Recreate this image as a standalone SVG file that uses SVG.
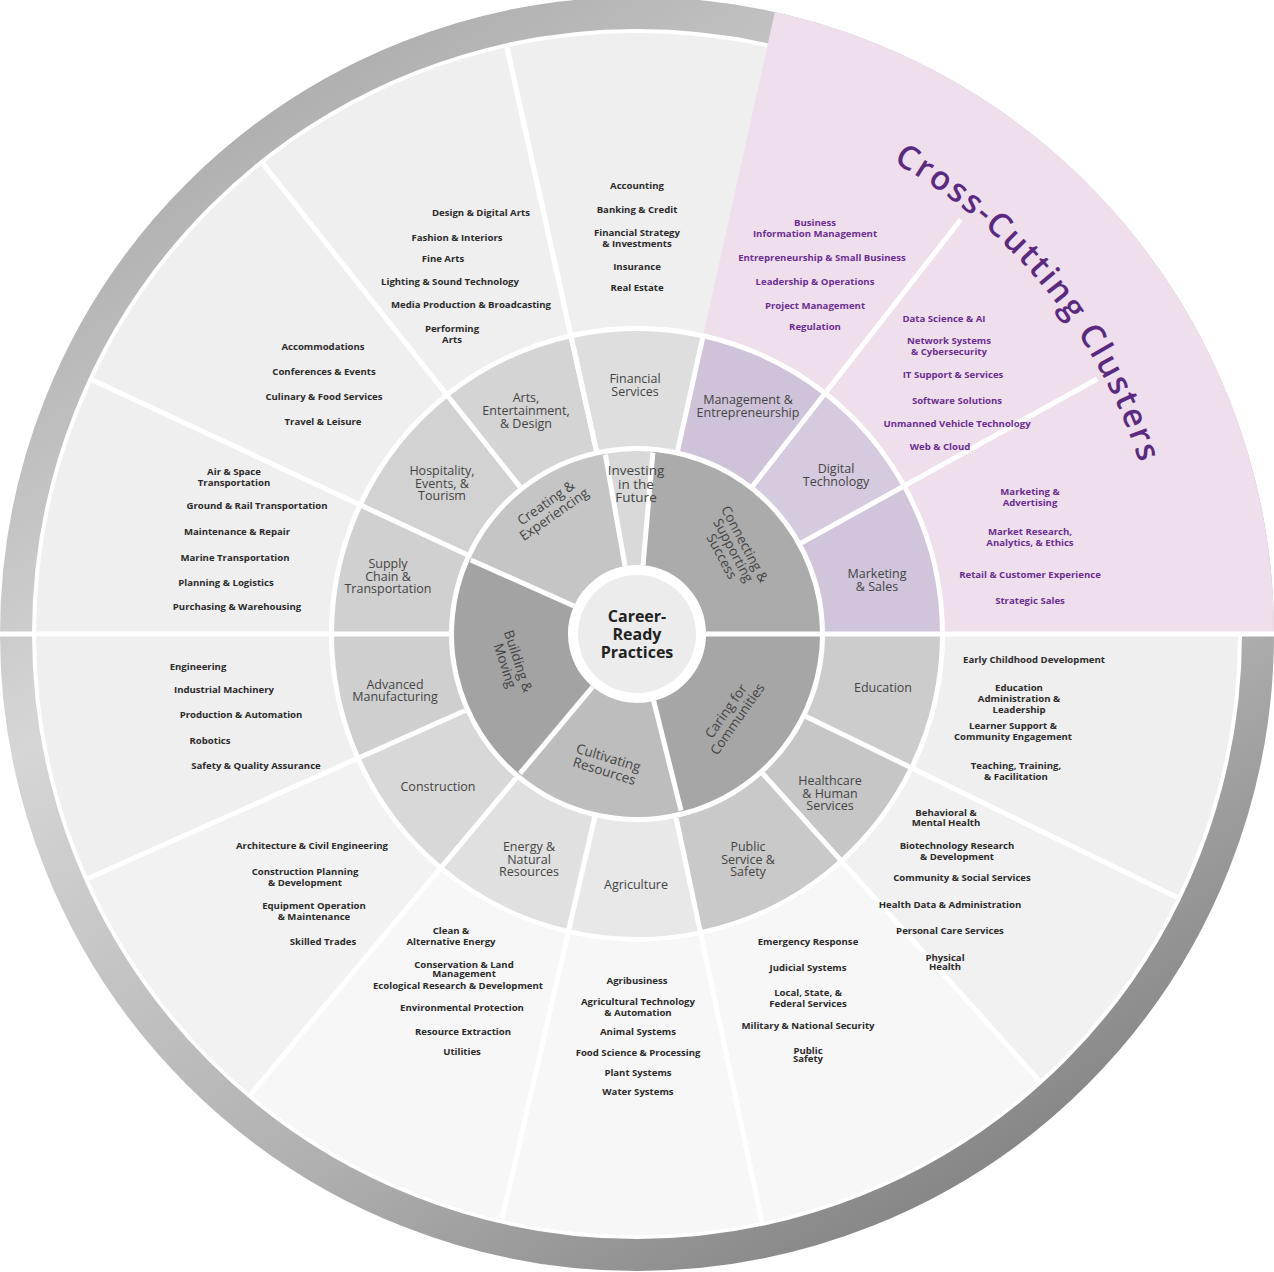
<svg xmlns="http://www.w3.org/2000/svg" width="1274" height="1272" viewBox="0 0 1274 1272">
<defs>
<linearGradient id="band" x1="0.2" y1="0" x2="0.8" y2="1">
<stop offset="0" stop-color="#a8a8a8"/><stop offset="0.35" stop-color="#d6d6d6"/><stop offset="0.7" stop-color="#b0b0b0"/><stop offset="1" stop-color="#7d7d7d"/>
</linearGradient>
<style>
.s{fill:none}
.d{stroke:#fff;stroke-width:5}
.o{font-family:"Open Sans","DejaVu Sans",sans-serif;font-size:9.6px;font-weight:700;fill:#2a2a2a;text-anchor:middle}
.p{fill:#6a2d91}
.c{font-family:"Open Sans","DejaVu Sans",sans-serif;font-size:12.5px;fill:#444;text-anchor:middle}
.k{font-family:"Open Sans","DejaVu Sans",sans-serif;font-size:13.5px;fill:#444;text-anchor:middle;font-weight:500}
</style>
</defs>
<rect width="1274" height="1272" fill="#fff"/>
<g id="band-ring">
<circle class="s" cx="637" cy="634" r="621" stroke="url(#band)" stroke-width="32"/>
</g>
<g id="outer-wedges">
<circle class="s" cx="637" cy="634" r="454.5" stroke-width="293" pathLength="360" stroke="#efefef"/>
<circle class="s" cx="637" cy="634" r="454.5" stroke-width="293" pathLength="360" stroke="#f7f7f7" stroke-dasharray="82 360" transform="rotate(48 637 634)"/>
<circle class="s" cx="637" cy="634" r="454.5" stroke-width="293" pathLength="360" stroke="#f2f2f2" stroke-dasharray="26 360" transform="rotate(130 637 634)"/>
<circle class="s" cx="637" cy="634" r="454.5" stroke-width="293" pathLength="360" stroke="#f1f1f1" stroke-dasharray="22 360" transform="rotate(26 637 634)"/>
<circle class="s" cx="637" cy="634" r="472.5" stroke-width="329" pathLength="360" stroke="#efdfec" stroke-dasharray="77.5 360" transform="rotate(-77.5 637 634)"/>
</g>
<g id="cluster-ring">
<circle class="s" cx="637" cy="634" r="245.5" stroke-width="115" pathLength="360" stroke="#dedede" stroke-dasharray="25 360" transform="rotate(257.5 637 634)"/>
<circle class="s" cx="637" cy="634" r="245.5" stroke-width="115" pathLength="360" stroke="#cfc3da" stroke-dasharray="25.5 360" transform="rotate(-77.5 637 634)"/>
<circle class="s" cx="637" cy="634" r="245.5" stroke-width="115" pathLength="360" stroke="#d6cadf" stroke-dasharray="23 360" transform="rotate(-52 637 634)"/>
<circle class="s" cx="637" cy="634" r="245.5" stroke-width="115" pathLength="360" stroke="#d1c5dc" stroke-dasharray="29 360" transform="rotate(-29 637 634)"/>
<circle class="s" cx="637" cy="634" r="245.5" stroke-width="115" pathLength="360" stroke="#cccccc" stroke-dasharray="26 360" transform="rotate(0 637 634)"/>
<circle class="s" cx="637" cy="634" r="245.5" stroke-width="115" pathLength="360" stroke="#c6c6c6" stroke-dasharray="22 360" transform="rotate(26 637 634)"/>
<circle class="s" cx="637" cy="634" r="245.5" stroke-width="115" pathLength="360" stroke="#c9c9c9" stroke-dasharray="30 360" transform="rotate(48 637 634)"/>
<circle class="s" cx="637" cy="634" r="245.5" stroke-width="115" pathLength="360" stroke="#e8e8e8" stroke-dasharray="25 360" transform="rotate(78 637 634)"/>
<circle class="s" cx="637" cy="634" r="245.5" stroke-width="115" pathLength="360" stroke="#e0e0e0" stroke-dasharray="27 360" transform="rotate(103 637 634)"/>
<circle class="s" cx="637" cy="634" r="245.5" stroke-width="115" pathLength="360" stroke="#d8d8d8" stroke-dasharray="26 360" transform="rotate(130 637 634)"/>
<circle class="s" cx="637" cy="634" r="245.5" stroke-width="115" pathLength="360" stroke="#cfcfcf" stroke-dasharray="24 360" transform="rotate(156 637 634)"/>
<circle class="s" cx="637" cy="634" r="245.5" stroke-width="115" pathLength="360" stroke="#d0d0d0" stroke-dasharray="25 360" transform="rotate(180 637 634)"/>
<circle class="s" cx="637" cy="634" r="245.5" stroke-width="115" pathLength="360" stroke="#d2d2d2" stroke-dasharray="26.5 360" transform="rotate(205 637 634)"/>
<circle class="s" cx="637" cy="634" r="245.5" stroke-width="115" pathLength="360" stroke="#d4d4d4" stroke-dasharray="26 360" transform="rotate(231.5 637 634)"/>
</g>
<g id="core-ring">
<circle class="s" cx="637" cy="634" r="126" stroke-width="114" pathLength="360" stroke="#d9d9d9" stroke-dasharray="15 360" transform="rotate(260 637 634)"/>
<circle class="s" cx="637" cy="634" r="126" stroke-width="114" pathLength="360" stroke="#ababab" stroke-dasharray="85 360" transform="rotate(-85 637 634)"/>
<circle class="s" cx="637" cy="634" r="126" stroke-width="114" pathLength="360" stroke="#a6a6a6" stroke-dasharray="76 360" transform="rotate(0 637 634)"/>
<circle class="s" cx="637" cy="634" r="126" stroke-width="114" pathLength="360" stroke="#bdbdbd" stroke-dasharray="54 360" transform="rotate(76 637 634)"/>
<circle class="s" cx="637" cy="634" r="126" stroke-width="114" pathLength="360" stroke="#a3a3a3" stroke-dasharray="74 360" transform="rotate(130 637 634)"/>
<circle class="s" cx="637" cy="634" r="126" stroke-width="114" pathLength="360" stroke="#c5c5c5" stroke-dasharray="56 360" transform="rotate(204 637 634)"/>
</g>
<g id="connectors">
<line class="d" x1="637" y1="448" x2="637" y2="33" transform="rotate(-12.5 637 634)"/>
<line class="d" x1="637" y1="448" x2="637" y2="328" transform="rotate(12.5 637 634)"/>
<line class="d" x1="637" y1="448" x2="637" y2="108" transform="rotate(38 637 634)"/>
<line class="d" x1="637" y1="448" x2="637" y2="108" transform="rotate(61 637 634)"/>
<line class="d" x1="637" y1="565" x2="637" y2="-10" transform="rotate(90 637 634)"/>
<line class="d" x1="637" y1="446" x2="637" y2="33" transform="rotate(116 637 634)"/>
<line class="d" x1="637" y1="446" x2="637" y2="33" transform="rotate(138 637 634)"/>
<line class="d" x1="637" y1="446" x2="637" y2="33" transform="rotate(168 637 634)"/>
<line class="d" x1="637" y1="446" x2="637" y2="33" transform="rotate(193 637 634)"/>
<line class="d" x1="637" y1="446" x2="637" y2="33" transform="rotate(220 637 634)"/>
<line class="d" x1="637" y1="446" x2="637" y2="33" transform="rotate(246 637 634)"/>
<line class="d" x1="637" y1="448" x2="637" y2="-10" transform="rotate(270 637 634)"/>
<line class="d" x1="637" y1="446" x2="637" y2="33" transform="rotate(295 637 634)"/>
<line class="d" x1="637" y1="446" x2="637" y2="33" transform="rotate(321.5 637 634)"/>
<line class="d" x1="637" y1="446" x2="637" y2="33" transform="rotate(347.5 637 634)"/>
<line class="d" x1="637" y1="565" x2="637" y2="452" transform="rotate(-10 637 634)"/>
<line class="d" x1="637" y1="565" x2="637" y2="452" transform="rotate(5 637 634)"/>
<line class="d" x1="637" y1="565" x2="637" y2="452" transform="rotate(166 637 634)"/>
<line class="d" x1="637" y1="565" x2="637" y2="452" transform="rotate(220 637 634)"/>
<line class="d" x1="637" y1="565" x2="637" y2="452" transform="rotate(294 637 634)"/>
</g>
<g id="center">
<circle cx="637" cy="634" r="66" fill="#fff"/>
<circle cx="637" cy="634" r="59" fill="#ececec"/>
<text font-family="Open Sans,DejaVu Sans,sans-serif" font-size="16" font-weight="700" fill="#222" text-anchor="middle"><tspan x="637" y="622">Career-</tspan><tspan x="637" y="640">Ready</tspan><tspan x="637" y="658">Practices</tspan></text>
</g>
<g id="core-labels">
<text class="k" fill="#555"><tspan x="636" y="475">Investing</tspan><tspan x="636" y="489">in the</tspan><tspan x="636" y="502">Future</tspan></text>
<text class="k" transform="translate(551,510) rotate(-35)"><tspan x="0" y="-4">Creating &amp;</tspan><tspan x="0" y="10">Experiencing</tspan></text>
<text class="k" transform="translate(730,552) rotate(62)"><tspan x="0" y="-12">Connecting &amp;</tspan><tspan x="0" y="1">Supporting</tspan><tspan x="0" y="14">Success</tspan></text>
<text class="k" transform="translate(733,716) rotate(-55)"><tspan x="0" y="-4">Caring for</tspan><tspan x="0" y="10">Communities</tspan></text>
<text class="k" transform="translate(606,766) rotate(17)"><tspan x="0" y="-4">Cultivating</tspan><tspan x="0" y="10">Resources</tspan></text>
<text class="k" transform="translate(510,664) rotate(72)"><tspan x="0" y="-4">Building &amp;</tspan><tspan x="0" y="10">Moving</tspan></text>
</g>
<g id="cluster-labels">
<text class="c"><tspan x="635" y="383">Financial</tspan><tspan x="635" y="396">Services</tspan></text>
<text class="c"><tspan x="526" y="402">Arts,</tspan><tspan x="526" y="415">Entertainment,</tspan><tspan x="526" y="428">&amp; Design</tspan></text>
<text class="c"><tspan x="442" y="475">Hospitality,</tspan><tspan x="442" y="488">Events, &amp;</tspan><tspan x="442" y="500">Tourism</tspan></text>
<text class="c"><tspan x="388" y="568">Supply</tspan><tspan x="388" y="581">Chain &amp;</tspan><tspan x="388" y="593">Transportation</tspan></text>
<text class="c"><tspan x="395" y="689">Advanced</tspan><tspan x="395" y="701">Manufacturing</tspan></text>
<text class="c" x="438" y="791">Construction</text>
<text class="c"><tspan x="529" y="851">Energy &amp;</tspan><tspan x="529" y="864">Natural</tspan><tspan x="529" y="876">Resources</tspan></text>
<text class="c" x="636" y="889">Agriculture</text>
<text class="c"><tspan x="748" y="851">Public</tspan><tspan x="748" y="864">Service &amp;</tspan><tspan x="748" y="876">Safety</tspan></text>
<text class="c"><tspan x="830" y="785">Healthcare</tspan><tspan x="830" y="798">&amp; Human</tspan><tspan x="830" y="810">Services</tspan></text>
<text class="c" x="883" y="692">Education</text>
<text class="c p"><tspan x="748" y="404">Management &amp;</tspan><tspan x="748" y="417">Entrepreneurship</tspan></text>
<text class="c p"><tspan x="836" y="473">Digital</tspan><tspan x="836" y="486">Technology</tspan></text>
<text class="c p"><tspan x="877" y="578">Marketing</tspan><tspan x="877" y="591">&amp; Sales</tspan></text>
</g>
<g id="title">
<path id="arc" d="M893,162 A528,528 0 0 1 1149,497" fill="none"/>
<text font-family="Open Sans,DejaVu Sans,sans-serif" font-size="33" font-weight="600" fill="#5a2a82"><textPath href="#arc" textLength="398" lengthAdjust="spacing">Cross-Cutting Clusters</textPath></text>
</g>
<g id="outer-items">
<text class="o" x="637" y="189">Accounting</text>
<text class="o" x="637" y="213">Banking &amp; Credit</text>
<text class="o"><tspan x="637" y="236">Financial Strategy</tspan><tspan x="637" y="247">&amp; Investments</tspan></text>
<text class="o" x="637" y="270">Insurance</text>
<text class="o" x="637" y="291">Real Estate</text>
<text class="o" x="481" y="216">Design &amp; Digital Arts</text>
<text class="o" x="457" y="241">Fashion &amp; Interiors</text>
<text class="o" x="443" y="262">Fine Arts</text>
<text class="o" x="450" y="285">Lighting &amp; Sound Technology</text>
<text class="o" x="471" y="308">Media Production &amp; Broadcasting</text>
<text class="o"><tspan x="452" y="332">Performing</tspan><tspan x="452" y="343">Arts</tspan></text>
<text class="o" x="323" y="350">Accommodations</text>
<text class="o" x="324" y="375">Conferences &amp; Events</text>
<text class="o" x="324" y="400">Culinary &amp; Food Services</text>
<text class="o" x="323" y="425">Travel &amp; Leisure</text>
<text class="o"><tspan x="234" y="475">Air &amp; Space</tspan><tspan x="234" y="486">Transportation</tspan></text>
<text class="o" x="257" y="509">Ground &amp; Rail Transportation</text>
<text class="o" x="237" y="535">Maintenance &amp; Repair</text>
<text class="o" x="235" y="561">Marine Transportation</text>
<text class="o" x="226" y="586">Planning &amp; Logistics</text>
<text class="o" x="237" y="610">Purchasing &amp; Warehousing</text>
<text class="o" x="198" y="670">Engineering</text>
<text class="o" x="224" y="693">Industrial Machinery</text>
<text class="o" x="241" y="718">Production &amp; Automation</text>
<text class="o" x="210" y="744">Robotics</text>
<text class="o" x="256" y="769">Safety &amp; Quality Assurance</text>
<text class="o" x="312" y="849">Architecture &amp; Civil Engineering</text>
<text class="o"><tspan x="305" y="875">Construction Planning</tspan><tspan x="305" y="886">&amp; Development</tspan></text>
<text class="o"><tspan x="314" y="909">Equipment Operation</tspan><tspan x="314" y="920">&amp; Maintenance</tspan></text>
<text class="o" x="323" y="945">Skilled Trades</text>
<text class="o"><tspan x="451" y="934">Clean &amp;</tspan><tspan x="451" y="945">Alternative Energy</tspan></text>
<text class="o"><tspan x="464" y="968">Conservation &amp; Land</tspan><tspan x="464" y="977">Management</tspan></text>
<text class="o" x="458" y="989">Ecological Research &amp; Development</text>
<text class="o" x="462" y="1011">Environmental Protection</text>
<text class="o" x="463" y="1035">Resource Extraction</text>
<text class="o" x="462" y="1055">Utilities</text>
<text class="o" x="637" y="984">Agribusiness</text>
<text class="o"><tspan x="638" y="1005">Agricultural Technology</tspan><tspan x="638" y="1016">&amp; Automation</tspan></text>
<text class="o" x="638" y="1035">Animal Systems</text>
<text class="o" x="638" y="1056">Food Science &amp; Processing</text>
<text class="o" x="638" y="1076">Plant Systems</text>
<text class="o" x="638" y="1095">Water Systems</text>
<text class="o" x="808" y="945">Emergency Response</text>
<text class="o" x="808" y="971">Judicial Systems</text>
<text class="o"><tspan x="808" y="996">Local, State, &amp;</tspan><tspan x="808" y="1007">Federal Services</tspan></text>
<text class="o" x="808" y="1029">Military &amp; National Security</text>
<text class="o"><tspan x="808" y="1054">Public</tspan><tspan x="808" y="1062">Safety</tspan></text>
<text class="o"><tspan x="946" y="816">Behavioral &amp;</tspan><tspan x="946" y="826">Mental Health</tspan></text>
<text class="o"><tspan x="957" y="849">Biotechnology Research</tspan><tspan x="957" y="860">&amp; Development</tspan></text>
<text class="o" x="962" y="881">Community &amp; Social Services</text>
<text class="o" x="950" y="908">Health Data &amp; Administration</text>
<text class="o" x="950" y="934">Personal Care Services</text>
<text class="o"><tspan x="945" y="961">Physical</tspan><tspan x="945" y="970">Health</tspan></text>
<text class="o" x="1034" y="663">Early Childhood Development</text>
<text class="o"><tspan x="1019" y="691">Education</tspan><tspan x="1019" y="702">Administration &amp;</tspan><tspan x="1019" y="713">Leadership</tspan></text>
<text class="o"><tspan x="1013" y="729">Learner Support &amp;</tspan><tspan x="1013" y="740">Community Engagement</tspan></text>
<text class="o"><tspan x="1016" y="769">Teaching, Training,</tspan><tspan x="1016" y="780">&amp; Facilitation</tspan></text>
<text class="o p"><tspan x="815" y="226">Business</tspan><tspan x="815" y="237">Information Management</tspan></text>
<text class="o p" x="822" y="261">Entrepreneurship &amp; Small Business</text>
<text class="o p" x="815" y="285">Leadership &amp; Operations</text>
<text class="o p" x="815" y="309">Project Management</text>
<text class="o p" x="815" y="330">Regulation</text>
<text class="o p" x="944" y="322">Data Science &amp; AI</text>
<text class="o p"><tspan x="949" y="344">Network Systems</tspan><tspan x="949" y="355">&amp; Cybersecurity</tspan></text>
<text class="o p" x="953" y="378">IT Support &amp; Services</text>
<text class="o p" x="957" y="404">Software Solutions</text>
<text class="o p" x="957" y="427">Unmanned Vehicle Technology</text>
<text class="o p" x="940" y="450">Web &amp; Cloud</text>
<text class="o p"><tspan x="1030" y="495">Marketing &amp;</tspan><tspan x="1030" y="506">Advertising</tspan></text>
<text class="o p"><tspan x="1030" y="535">Market Research,</tspan><tspan x="1030" y="546">Analytics, &amp; Ethics</tspan></text>
<text class="o p" x="1030" y="578">Retail &amp; Customer Experience</text>
<text class="o p" x="1030" y="604">Strategic Sales</text>
</g>
</svg>
